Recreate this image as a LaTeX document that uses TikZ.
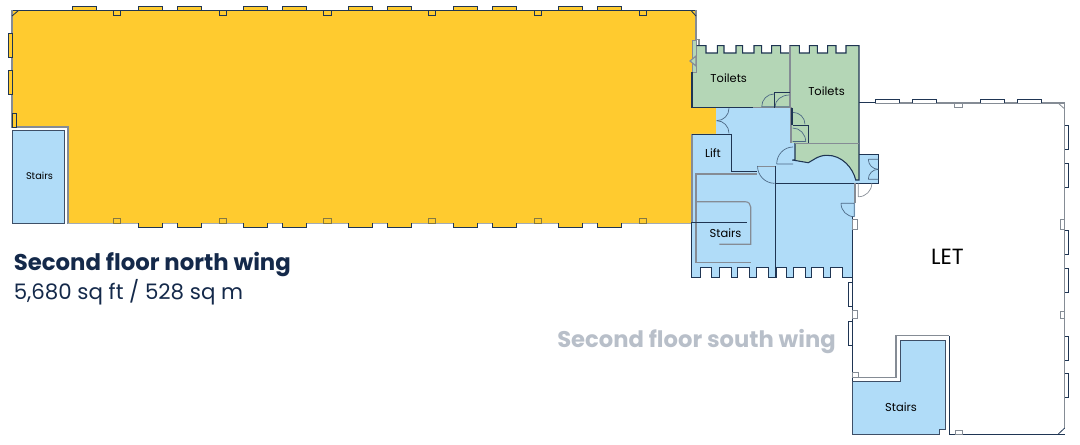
\documentclass[tikz,border=0pt]{standalone}
\usepackage{fontspec}
\setmainfont{Poppins}
\usetikzlibrary{calc}
\definecolor{yel}{HTML}{FFCB2F}
\definecolor{blu}{HTML}{B0DCF8}
\definecolor{grn}{HTML}{B4D6B6}
\definecolor{ink}{HTML}{1F3553}
\definecolor{gry}{HTML}{858C95}
\definecolor{lgry}{HTML}{A3ABB5}
\definecolor{navy}{HTML}{14294A}
\definecolor{pale}{HTML}{B8BFC9}
\newcommand\qarc[3]{(#1) .. controls ($(#1)!0.5523!(#2)$) and ($(#3)!0.5523!(#2)$) .. (#3)}
\tikzset{
  wall/.style={draw=ink,line width=0.7pt,line join=miter},
  softwall/.style={draw=gry,line width=0.85pt},
  thin door/.style={draw=gry,line width=0.5pt},
  blue door/.style={draw=ink!70!blu,line width=0.5pt},
  ywin/.style={draw=ink,fill=yel,line width=0.65pt},
  wwin/.style={draw=ink,fill=white,line width=0.65pt},
  gwin/.style={draw=gry,fill=white,line width=0.7pt},
  room/.style={inner sep=0pt,text=black,font=\fontsize{8.6}{10}\selectfont},
}
\begin{document}
\begin{tikzpicture}[x=0.75pt,y=-0.75pt]
\useasboundingbox (0,0) rectangle (1080,445);
% fills
\fill[yel] (12,10.5)--(696,10.5)--(696,108)--(716,108)--(716,134)--(692,134)--(692,223.5)--(68,223.5)--(68,127)--(12,127)--cycle;
% blue core
\fill[blu] (716,108)--(791,108)--(791,143)--(859,143)--(859,154.3)--(878.3,154.3)--(878.3,183.3)--(855,183.3)--(855,217)--(852.5,217)--(852.5,277.3)
 --(842.3,277.3)--(842.3,267.3)--(830,267.3)--(830,277.3)--(823.3,277.3)--(823.3,267.3)--(811.7,267.3)--(811.7,277.3)--(805,277.3)--(805,267.3)--(793.3,267.3)--(793.3,277.3)--(786.7,277.3)--(786.7,267.3)--(776,267.3)--(776,277.3)--(768.3,277.3)--(768.3,267.3)--(756,267.3)--(756,277.3)--(749.3,277.3)--(749.3,267.3)--(737.3,267.3)--(737.3,277.3)--(731,277.3)--(731,267.3)--(719.3,267.3)--(719.3,277.3)--(711,277.3)--(711,267.3)--(700.7,267.3)--(700.7,277.3)--(691,277.3)--(691,222.5)--(692,222.5)--(692,134)--(716,134)--cycle;
% green
\path[fill=grn] (692.3,40)--(696.7,40)--(696.7,45.7)
 --(706,45.7)--(706,53)--(717.3,53)--(717.3,45.7)--(724,45.7)--(724,53)--(736,53)--(736,45.7)--(742.7,45.7)--(742.7,53)--(754,53)--(754,45.7)--(761.7,45.7)--(761.7,53)--(771.7,53)--(771.7,45.7)--(780.7,45.7)--(780.7,53)--(790,53)--(790,45.7)--(799.3,45.7)--(799.3,53)--(809.3,53)--(809.3,45.7)--(817.3,45.7)--(817.3,53)--(827.7,53)--(827.7,45.7)--(836,45.7)--(836,53)--(846,53)--(846,45.7)--(859,45.7)
 --(859,180)--(855.7,180) .. controls (853,168) and (842,155) .. (826.7,155.3) .. controls (818,155.3) and (812,161) .. (808.3,162.7)--(792.3,160)--(795,160)--(795,143)--(791,143)--(791,107.7)--(692,107.7)--(692,72.3)--(692.3,72.3)--cycle;
% stairs fills
\path[fill=blu,draw=ink!70!gry,line width=0.7pt] (12,130)rectangle(64.7,223.5);
\path[fill=blu,draw=ink!70!gry,line width=0.7pt] (852.3,381)--(900,381)--(900,340)--(945.3,340)--(945.3,429.3)--(939.3,429.3)--(939.3,434)--(852.3,434)--cycle;
% north wing outline
\draw[wall] (12,10.5)--(696,10.5);
\draw[softwall] (696,10.5)--(696,40);
\draw[softwall] (12,10.5)--(12,127)--(68,127)--(68,223.5)--(692,223.5);
\draw[softwall,lgry] (68,223.7)--(692,223.7);
\draw[ywin] (12,16)--(18.5,10.5);
\draw[ywin] (691,10.5)--(696,16);
\foreach \a in {72.5,138.3,177.3,243.3,282.3,348.3,387.3,453.3,492.3,558.3,597.3}
  \draw[ywin] (\a,10.5)--(\a,6.5)--++(24.3,0)--++(0,4);
\foreach \a in {138.3,177.3,243.3,282.3,348.3,387.3,453.3,492.3,558.3,597.3}
  \draw[ywin] (\a,223.5)--(\a,227.5)--++(24.3,0)--++(0,-4);
\foreach \a in {113.3,219,323.7,428.3,534,639.3}{
  \draw[ywin] (\a,10.5) rectangle ++(7.4,5);
  \draw[ywin,draw=ink!55!yel] (\a,218.5) rectangle ++(7.4,5);
}
\draw[ywin] (12,33.3) rectangle (8,57.3);
\draw[ywin] (12,70.7) rectangle (8,94.7);
\draw[ywin] (12,113.3) rectangle (16.5,127);
% toilets outline
\draw[softwall,fill=grn] (692.3,40.5) rectangle (696.3,72.3);
\draw[softwall,fill=grn] (690,61)--(696,56)--(696,66)--cycle;
\draw[softwall] (696.5,39.3)--(699,39.3)--(699,46);
\draw[wall,line width=0.8pt] (696.7,45.7)
 --(706,45.7)--(706,53)--(717.3,53)--(717.3,45.7)--(724,45.7)--(724,53)--(736,53)--(736,45.7)--(742.7,45.7)--(742.7,53)--(754,53)--(754,45.7)--(761.7,45.7)--(761.7,53)--(771.7,53)--(771.7,45.7)--(780.7,45.7)--(780.7,53)--(790,53)--(790,45.7)--(799.3,45.7)--(799.3,53)--(809.3,53)--(809.3,45.7)--(817.3,45.7)--(817.3,53)--(827.7,53)--(827.7,45.7)--(836,45.7)--(836,53)--(846,53)--(846,45.7)--(859,45.7)--(859,180)--(855.7,180) .. controls (853,168) and (842,155) .. (826.7,155.3) .. controls (818,155.3) and (812,161) .. (808.3,162.7)--(792.3,160)--(795,160)--(795,143);
\draw[wall,line width=0.9pt] (692,72.3)--(692,107.7)--(753,107.7);
\draw[softwall] (753,107.7)--(791,107.7)--(791,143);
\draw[softwall] (790,45.7)--(790,107.7);
\draw[softwall,line width=1.1pt] (795,143.3)--(859,143.3);
% toilet doors
\draw[blue door] (761.7,106.7)--(774,106.7) \qarc{761.7,106.7}{761.7,94}{774,94};
\draw[blue door] (775,106.7)--(789.3,106.7) \qarc{775,106.7}{775,95}{789.3,95};
\draw[wall,line width=0.55pt] (774,107.7)--(774,92.3)--(790,92.3);
\draw[blue door] \qarc{792.7,112.3}{805,112.3}{805,124.3};
\draw[blue door] \qarc{792.7,128}{805.7,128}{805.7,141.7} (805.7,141.5)--(792.7,141.5);
\draw[wall,line width=0.55pt] (792.7,125)--(808.3,125)--(808.3,143);
\draw[wall,line width=0.8pt] (792,108)--(792,125);
% blue walls and doors
\draw[blue door] \qarc{729,108.3}{729,120.7}{716.7,120.7};
\draw[blue door] \qarc{716.7,120.7}{729,120.7}{729,133.3};
\draw[softwall] (692,134)--(692,222.5);
\draw[wall] (731.7,134)--(692,134);
\draw[wall] (731.7,134)--(731.7,171.3)--(757.3,171.3);
\draw[blue door] (776.7,164)--(793,164) \qarc{776.7,164}{776.7,147}{793,147};
\draw[thin door] (757,166)--(775,166);
\draw[blue door] \qarc{757.5,166}{757.5,183.3}{774.5,183.3};
\draw[wall] (775.3,166)--(775.3,277);
\draw[wall,line width=0.75pt] (775.3,183.3)--(878.3,183.3)--(878.3,154.3)--(859,154.3);
\draw[blue door] (868.3,159.3)--(878.3,159.3) \qarc{868.3,159.3}{868.3,169.3}{878.3,169.3};
\draw[blue door] (868.3,179.3)--(878.3,179.3) \qarc{868.3,179.3}{868.3,169.3}{878.3,169.3};
\draw[thin door] (858.3,183.3)--(858.3,196.8) \qarc{858.3,196.8}{871.8,196.8}{871.8,183.3};
\draw[blue door] (841,203.3)--(854.3,203.3)--(854.3,216.7) \qarc{841,203.3}{841,216.7}{854.3,216.7};
\draw[softwall] (855,183.3)--(855,203);
% interior stair lines
\draw[softwall] (757,174)--(696,174)--(696,262.7)--(750.7,262.7);
\draw[softwall] (696,201.7)--(745,201.7) .. controls (748.5,201.7) and (750.7,204) .. (750.7,207)--(750.7,244.3)--(719.3,244.3);
\draw[wall] (691,222.3)--(746.7,222.3);
% bottom crenellation
\draw[wall,line width=0.7pt] (852.5,217)--(852.5,277.3)--(842.3,277.3)--(842.3,267.3)--(830,267.3)--(830,277.3)--(823.3,277.3)--(823.3,267.3)--(811.7,267.3)--(811.7,277.3)--(805,277.3)--(805,267.3)--(793.3,267.3)--(793.3,277.3)--(786.7,277.3)--(786.7,267.3)--(776,267.3)--(776,277.3)--(768.3,277.3)--(768.3,267.3)--(756,267.3)--(756,277.3)--(749.3,277.3)--(749.3,267.3)--(737.3,267.3)--(737.3,277.3)--(731,277.3)--(731,267.3)--(719.3,267.3)--(719.3,277.3)--(711,277.3)--(711,267.3)--(700.7,267.3)--(700.7,277.3)--(691,277.3)--(691,222.5);
% south wing LET outline
\draw[wall] (859,102.3)--(875,102.3);
\draw[softwall] (875,103)--(1064.7,103)--(1064.7,280);
\draw[softwall] (1064.7,280)--(1064.7,428);
\draw[wall] (852.4,277)--(852.4,381);
\draw[softwall] (852.3,377.7)--(896,377.7)--(896,335.7)--(949.3,335.7);
\draw[wall] (949.3,335.7)--(949.3,434)--(1064.7,434);
\foreach \a in {875,912.3,980,1017.3}
  \draw[wwin] (\a,103)--(\a,99.3)--++(24.3,0)--++(0,3.7);
\draw[gwin] (954.7,103) rectangle (962,107.5);
\draw[gry,line width=0.6pt] (1058,103)--(1064.7,109);
\foreach \a/\b in {125.3/149.3,163.3/187.3,230.3/254.7,268.3/292.3,336/360,373.7/397.7}
  \draw[wwin] (1064.7,\a)--(1068.7,\a)--(1068.7,\b)--(1064.7,\b);
\draw[gwin] (1060.3,219.3) rectangle (1064.7,229.3);
\draw[gwin] (1060.3,311) rectangle (1064.7,318.3);
\foreach \a/\b in {282.7/306.7,321/345.3}
  \draw[wwin] (852.3,\a)--(848.3,\a)--(848.3,\b)--(852.3,\b);
\draw[gwin] (852.7,219.3) rectangle (857.3,229.3);
\draw[gwin] (852.5,310.3) rectangle (857.3,318.3);
\draw[gwin] (852.5,372) rectangle (858.3,377.7);
\draw[gwin] (955,430) rectangle (962.3,434);
\draw[wall,line width=0.6pt] (1058.3,434)--(1064.7,428);
% labels
\node[room,font=\fontsize{7.3}{8}\selectfont] (s1) at (39.5,176) {Stairs};
\node[room] (t1) at (728.7,78.5) {Toilets};
\node[room] (t2) at (826.5,91) {Toilets};
\node[room] (lift) at (713,153) {Lift};
\node[room] (s2) at (725.5,233) {Stairs};
\node[room] (s3) at (901,407.5) {Stairs};
\node[room,font=\fontsize{16.5}{18}\selectfont] (let) at (947.5,256.5) {LET};
\node[anchor=base west,inner sep=0pt,text=navy,font=\fontsize{17.1}{20}\selectfont\bfseries] (north) at (13.5,270) {Second floor north wing};
\node[anchor=base west,inner sep=0pt,text=navy,font=\fontsize{16}{20}\selectfont] (area) at (13.5,299) {5,680 sq ft / 528 sq m};
\node[anchor=base west,inner sep=0pt,text=pale,font=\fontsize{17}{20}\selectfont\bfseries] (south) at (557,347) {Second floor south wing};
\end{tikzpicture}
\end{document}
